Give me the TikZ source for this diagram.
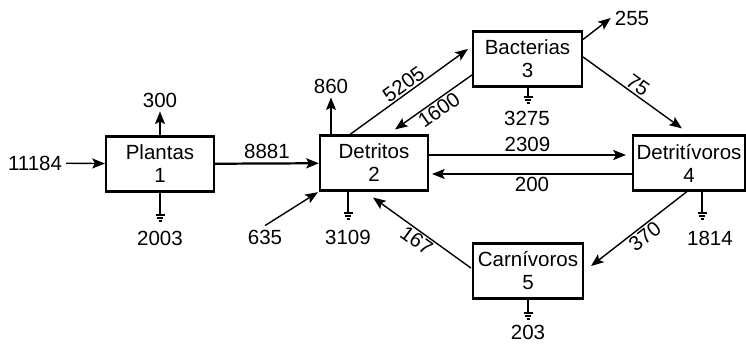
\documentclass[tikz,border=0pt]{standalone}
\usepackage{fontspec}
\setmainfont{Liberation Sans}
\usetikzlibrary{arrows.meta,positioning,calc}

\begin{document}
\begin{tikzpicture}[x=0.03cm,y=-0.03cm,
  every node/.style={font=\fontsize{17.5}{19.6}\selectfont},
  comp/.style={draw,line width=1.8pt,minimum width=#1,minimum height=1.65cm,
               inner sep=0pt,align=center},
  arr/.style={-{Stealth[length=3.8mm,width=3mm,inset=0.8mm]},line width=1.2pt},
  flow/.style={arr,line width=1.9pt},
  lbl/.style={inner sep=1.2pt},
  gnd/.style={line width=1.7pt},
  tierra/.pic={\draw[line width=1.2pt] (-4.5,0) -- (4.5,0) (-3,3) -- (3,3) (-1.5,6) -- (1.5,6);}
]
\useasboundingbox (0,0) rectangle (746,347);

% compartments
\node[comp=3.24cm] (plantas)      at (160,164)   {Plantas\\1};
\node[comp=3.24cm] (detritos)     at (374,163)   {Detritos\\2};
\node[comp=3.27cm] (bacterias)    at (527.5,59)  {Bacterias\\3};
\node[comp=3.36cm] (detritivoros) at (689,163)   {Detritívoros\\4};
\node[comp=3.3cm]  (carnivoros)   at (528,271)   {Carnívoros\\5};

% inputs and outputs
\node (in1)   at (35,163)  {11184};
\node (resp1) at (160,100) {300};
\node (sum1)  at (160,238) {2003};
\node (in2)   at (265,237) {635};
\node (resp2) at (331,86)  {860};
\node (sum2)  at (348,237) {3109};
\node (resp3) at (632,18)  {255};
\node (sum3)  at (527,118) {3275};
\node (sum4)  at (710,238) {1814};
\node (sum5)  at (528,332) {203};

\coordinate (g1) at (160,215);
\coordinate (g2) at (348,213);
\coordinate (g3) at (528,97);
\coordinate (g4) at (702,213);
\coordinate (g5) at (528,313);

\draw[arr] (in1) -- (plantas);
\draw[arr] (plantas) -- (resp1);
\draw[gnd] (plantas.south -| g1) -- (g1) pic{tierra};
\draw[flow] (plantas) -- node[lbl,above=2pt] (f12) {8881} (detritos);

\draw[arr,shorten >=1pt] (in2.north) -- (detritos.south west);
\draw[arr] (resp2.south |- detritos.north) -- (resp2);
\draw[gnd] (detritos.south -| g2) -- (g2) pic{tierra};

\draw[arr] ($(detritos.north)+(-24,0)$) -- ($(bacterias.west)+(-4,-10)$)
  node[lbl,midway,above,sloped] (f23) {5205};
\draw[arr] ($(bacterias.west)+(0,16)$) -- ($(detritos.north)+(21,-5)$)
  node[lbl,midway,below,sloped] (f32) {1600};

\draw[arr] ($(bacterias.north east)+(0,9)$) -- (resp3.west);
\draw[gnd] (bacterias.south -| g3) -- (g3) pic{tierra};
\draw[arr] ($(bacterias.east)+(0,-2)$) -- ($(detritivoros.north)+(-7,-6)$)
  node[lbl,midway,above,sloped] (f34) {75};

\draw[flow] ($(detritos.east)+(0,-8)$) -- ($(detritivoros.west)+(-6,-8)$)
  node[lbl,midway,above=1pt] (f24) {2309};
\draw[arr] ($(detritivoros.west)+(0,11)$) -- ($(detritos.east)+(3,11)$)
  node[lbl,midway,below=1pt] (f42) {200};
\draw[gnd] (detritivoros.south -| g4) -- (g4) pic{tierra};

\draw[arr] ($(detritivoros.south)+(-2,0)$) -- ($(carnivoros.east)+(7,-5)$)
  node[lbl,midway,below,sloped] (f45) {370};
\draw[arr] ($(carnivoros.west)+(-1,-3)$) -- ($(detritos.south)+(-1,6)$)
  node[lbl,midway,below,sloped] (f52) {167};
\draw[gnd] (carnivoros.south -| g5) -- (g5) pic{tierra};
\end{tikzpicture}
\end{document}
